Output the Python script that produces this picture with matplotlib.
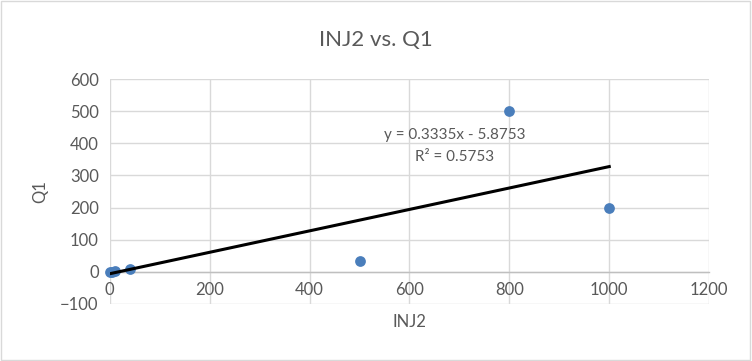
import matplotlib
matplotlib.use("Agg")
import matplotlib.pyplot as plt
import numpy as np

inj2 = [0, 5, 10, 40, 500, 800, 1000]
q1 = [0, 0, 3, 10, 35, 500, 200]
slope, intercept, r2 = 0.3335, -5.8753, 0.5753
x_ticks = [0, 200, 400, 600, 800, 1000, 1200]
y_ticks = [-100, 0, 100, 200, 300, 400, 500, 600]

plt.rcParams['font.family'] = ['Lato', 'DejaVu Sans']
txt = '#595959'

fig = plt.figure(figsize=(7.52, 3.61), dpi=100)
fig.patch.set_facecolor('white')
fig.add_artist(plt.Rectangle((0.001, 0.002), 0.997, 0.995, transform=fig.transFigure,
                             fill=False, edgecolor='#d9d9d9', linewidth=1))
ax = fig.add_axes([0.146, 0.158, 0.797, 0.623])
ax.set_xlim(0, 1200)
ax.set_ylim(-100, 600)
ax.set_xticks(x_ticks)
ax.set_yticks(y_ticks)
ax.grid(True, color='#d9d9d9', linewidth=1)
ax.set_axisbelow(True)
for s in ['top', 'right', 'left']:
    ax.spines[s].set_visible(False)
ax.spines['bottom'].set_position(('data', 0))
ax.spines['bottom'].set_color('#bfbfbf')
ax.spines['bottom'].set_linewidth(1)
ax.tick_params(axis='both', length=0, labelsize=12, labelcolor=txt)
ax.tick_params(axis='x', pad=7)
ax.tick_params(axis='y', pad=8)

ax.scatter(inj2, q1, s=60, color='#4a7ebb', zorder=3, linewidths=0, clip_on=False)
xl = np.array([min(inj2), max(inj2)])
ax.plot(xl, slope * xl + intercept, color='black', linewidth=2.2, zorder=4)

ax.text(691, 426, f"y = {slope}x - {abs(intercept)}", ha='center', va='center',
        fontsize=11, color=txt)
ax.text(691, 357, f"R² = {r2}", ha='center', va='center', fontsize=11, color=txt)

fig.text(0.5, 0.89, "INJ2 vs. Q1", ha='center', va='center', fontsize=16, color=txt)
fig.text(0.545, 0.108, "INJ2", ha='center', va='center', fontsize=12, color=txt)
fig.text(0.053, 0.47, "Q1", ha='center', va='center', fontsize=12, color=txt, rotation=90)

fig.savefig("out.png", dpi=100)
